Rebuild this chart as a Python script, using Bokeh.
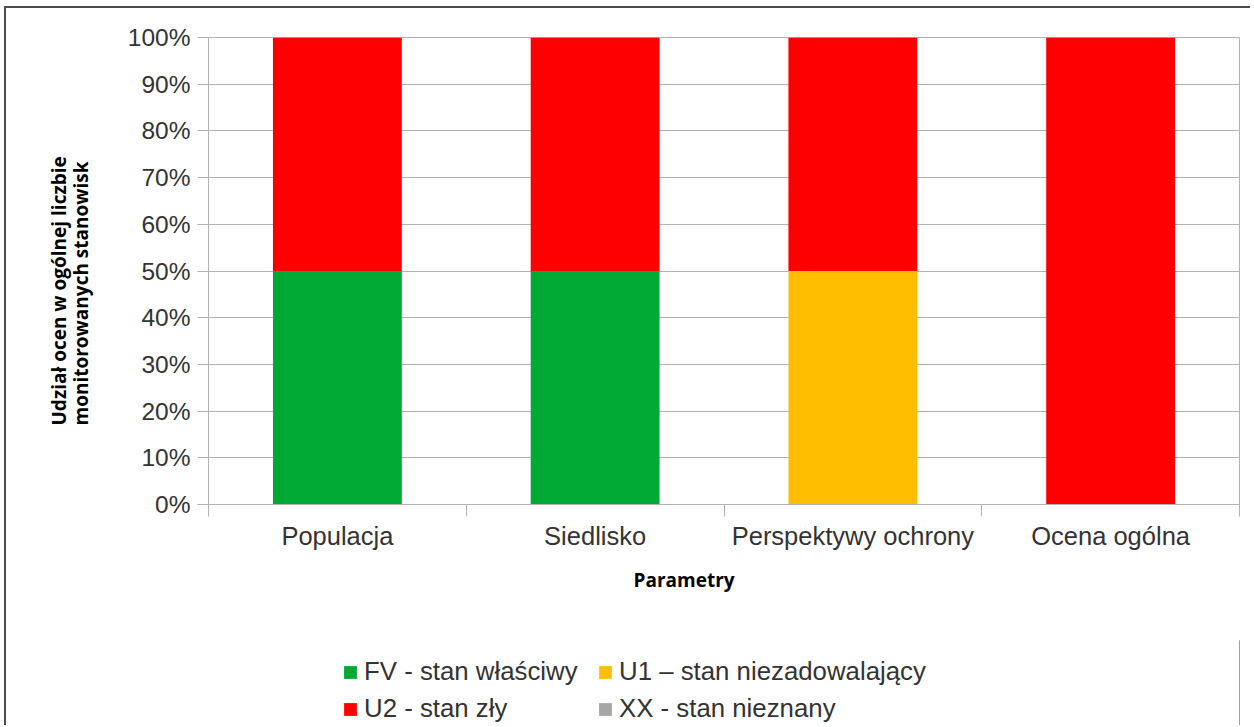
from bokeh.plotting import figure
from bokeh.layouts import column
from bokeh.models import (ColumnDataSource, FixedTicker, PrintfTickFormatter, Legend,
                          LegendItem, Range1d, Title)
from bokeh.embed import file_html
from bokeh.resources import INLINE

categories = ["Populacja", "Siedlisko", "Perspektywy ochrony", "Ocena ogólna"]
fv = [50, 50, 0, 0]
u1 = [0, 0, 50, 0]
u2 = [50, 50, 50, 100]
xx = [0, 0, 0, 0]
series_keys = ["fv", "u1", "u2", "xx"]
series_names = ["FV - stan właściwy", "U1 – stan niezadowalający", "U2 - stan zły", "XX - stan nieznany"]
series_colors = ["#00a933", "#ffbf00", "#ff0000", "#a6a6a6"]
y_ticks = list(range(0, 101, 10))
y_title = "Udział ocen w ogólnej liczbie\nmonitorowanych stanowisk"
x_title = "Parametry"

xpos = [i + 0.5 for i in range(len(categories))]
source = ColumnDataSource(dict(x=xpos, fv=fv, u1=u1, u2=u2, xx=xx))

W = 1244
p = figure(width=W, height=632, output_backend="svg", toolbar_location=None,
           title=None, x_range=Range1d(0, len(categories)), y_range=Range1d(0, 100),
           min_border_left=202, min_border_right=11, min_border_top=29, min_border_bottom=136)

p.vbar_stack(series_keys, x="x", width=0.5, source=source,
             color=series_colors, line_color=None)

p.outline_line_color = "#b3b3b3"
p.outline_line_width = 1
p.background_fill_color = "white"
p.border_fill_color = "white"

# y axis
p.yaxis.ticker = FixedTicker(ticks=y_ticks)
p.yaxis.formatter = PrintfTickFormatter(format="%d%%")
p.yaxis.axis_line_color = "#b3b3b3"
p.yaxis.major_tick_line_color = "#b3b3b3"
p.yaxis.major_tick_out = 11
p.yaxis.major_tick_in = 0
p.yaxis.minor_tick_line_color = None
p.yaxis.major_label_text_font = "Liberation Sans"
p.yaxis.major_label_text_font_size = "24.5px"
p.yaxis.major_label_text_color = "#333333"
p.yaxis.major_label_standoff = 7

ytitle = Title(text=y_title, align="left", text_font="Open Sans", text_font_style="bold",
               text_font_size="19px", text_color="#000000", standoff=60, offset=79,
               text_line_height=0.86)
p.add_layout(ytitle, "left")

# x axis
p.xaxis.ticker = FixedTicker(ticks=xpos, minor_ticks=list(range(len(categories) + 1)))
p.xaxis.major_label_overrides = {x: c for x, c in zip(xpos, categories)}
p.xaxis.axis_line_color = "#b3b3b3"
p.xaxis.major_tick_line_color = None
p.xaxis.major_tick_out = 0
p.xaxis.major_tick_in = 0
p.xaxis.minor_tick_line_color = "#b3b3b3"
p.xaxis.minor_tick_out = 12
p.xaxis.minor_tick_in = 0
p.xaxis.major_label_text_font = "Liberation Sans"
p.xaxis.major_label_text_font_size = "25.5px"
p.xaxis.major_label_text_color = "#333333"
p.xaxis.major_label_standoff = 5

xtitle = Title(text=x_title, align="left", text_font="Open Sans", text_font_style="bold",
               text_font_size="19px", text_color="#000000", standoff=25, offset=425)
p.add_layout(xtitle, "below")

p.xgrid.grid_line_color = None
p.ygrid.ticker = FixedTicker(ticks=y_ticks)
p.ygrid.grid_line_color = "#b3b3b3"
p.ygrid.grid_line_width = 1

# legend figure (its bars lie outside its visible range; only the legend shows)
p2 = figure(width=W, height=85, output_backend="svg", toolbar_location=None, title=None,
            x_range=Range1d(-20, -10), y_range=Range1d(0, 1), min_border=0)
p2.axis.visible = False
p2.grid.visible = False
p2.outline_line_color = None
p2.border_fill_color = "white"
dummy = p2.vbar_stack(series_keys, x="x", width=0.5, source=source,
                      color=series_colors, line_color=None)
items = [LegendItem(label=n, renderers=[r]) for n, r in zip(series_names, dummy)]
legend = Legend(items=items, location=(134, 2), orientation="horizontal", ncols=2,
                label_text_font="Liberation Sans", label_text_font_size="25.8px",
                label_text_color="#333333", glyph_width=16, glyph_height=16,
                label_standoff=6, label_width=225, label_height=28, spacing=8,
                padding=0, margin=0, border_line_color=None, background_fill_alpha=0)
p2.add_layout(legend, "center")

layout = column(p, p2, spacing=0,
                styles={"margin-left": "4px", "margin-top": "6px",
                        "border-left": "2px solid #4d4d4d", "border-top": "2px solid #4d4d4d"})

open("out.html", "w").write(file_html(layout, INLINE))
